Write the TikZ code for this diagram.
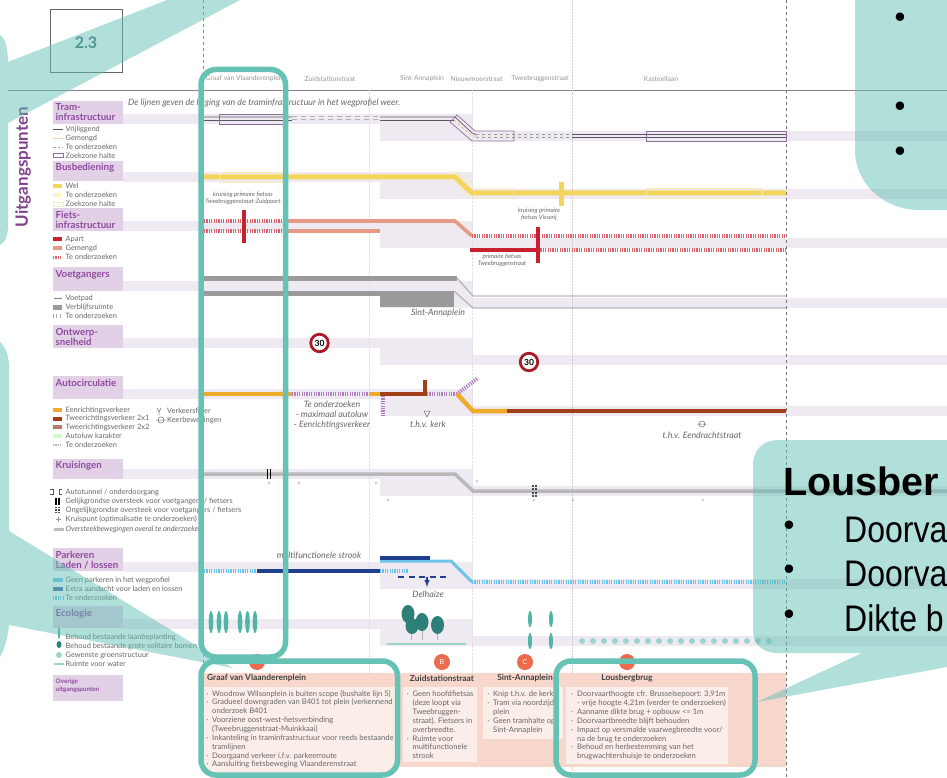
\documentclass[tikz,border=0pt]{standalone}
\usepackage{fontspec}
\setmainfont{Lato}
\newfontfamily\callfont{Liberation Sans}
\newfontfamily\callnarrow[FakeStretch=0.865]{Liberation Sans}
\definecolor{bandlila}{HTML}{EFEAF2}
\definecolor{headlila}{HTML}{E2D0E7}
\definecolor{headtext}{HTML}{8E4A9E}
\definecolor{ruleline}{HTML}{8D7C93}
\definecolor{zonelila}{HTML}{8E6E98}
\definecolor{tramdark}{HTML}{5A5560}
\definecolor{busgeel}{HTML}{F3D55B}
\definecolor{busgeelpale}{HTML}{F8EBB4}
\definecolor{fietsrood}{HTML}{C8202F}
\definecolor{fietszalm}{HTML}{E59A85}
\definecolor{voetgrijs}{HTML}{9A9A9A}
\definecolor{kruisgrijs}{HTML}{B8B8B8}
\definecolor{autooranje}{HTML}{EEAB2A}
\definecolor{autorood}{HTML}{A23E1A}
\definecolor{parkblauw}{HTML}{1F3F8F}
\definecolor{parklicht}{HTML}{6CC3E8}
\definecolor{boomslank}{HTML}{4FB5A5}
\definecolor{boomdonker}{HTML}{2E7F78}
\definecolor{groenlicht}{HTML}{9DD3CC}
\definecolor{zalmvlak}{HTML}{F7D6CB}
\definecolor{zalmlicht}{HTML}{FBEEEA}
\definecolor{letterbol}{HTML}{EC6A4E}
\definecolor{kaderteal}{HTML}{66C2B5}
\definecolor{wolkteal}{HTML}{63BFB3}
\definecolor{tekstgrijs}{HTML}{666666}
\definecolor{nummerteal}{HTML}{3F6A70}
\newcommand{\bandrow}[1]{%
	\fill[bandlila] (123,#1) rectangle (473,#1+10);
	\fill[bandlila] (380,#1) rectangle (473,#1+27);
	\fill[bandlila] (473,#1+17) rectangle (947,#1+27);}
\newcommand{\bul}{\llap{·\ \ }}
\begin{document}
\begin{tikzpicture}[x=1pt,y=-1pt]
	\tikzset{headbox/.style={fill=headlila,inner sep=0pt}}
	\tikzset{headlabel/.style={anchor=north west,inner sep=0pt,align=left,text=headtext,font=\fontsize{9.7}{10}\selectfont\bfseries}}
	\tikzset{legend/.style={anchor=west,inner sep=0pt,text=tekstgrijs,font=\fontsize{7.4}{8}\selectfont}}
	\tikzset{street/.style={inner sep=0pt,text=tekstgrijs!70,font=\fontsize{6.8}{7}\selectfont}}
	\tikzset{remark/.style={inner sep=0pt,align=center,text=tekstgrijs,font=\fontsize{8.8}{10}\selectfont\itshape}}
	\tikzset{tiny/.style={inner sep=0pt,align=center,text=tekstgrijs,font=\fontsize{6.1}{7}\selectfont\itshape}}
	\tikzset{hatchline/.style={line width=4pt,dash pattern=on 1.2pt off 1.2pt}}
	\tikzset{boxtitle/.style={inner sep=0pt,text=black!75,font=\fontsize{8.4}{9}\selectfont\bfseries}}
	\tikzset{boxtext/.style={anchor=north west,inner sep=0pt,align=left,text=tekstgrijs,font=\fontsize{7.6}{8.85}\selectfont}}
	\tikzset{letterdot/.style={circle,fill=letterbol,minimum size=16pt,inner sep=0pt,text=white,font=\fontsize{7}{8}\selectfont}}
	\tikzset{speed/.style={circle,draw=fietsrood!85!black,line width=2.8pt,fill=white,minimum size=17.5pt,inner sep=0pt,font=\fontsize{8.5}{9}\selectfont\bfseries}}
	\tikzset{crossing/.style={text=black!45,inner sep=0pt,font=\fontsize{6}{6}\selectfont}}
	\tikzset{frame/.style={draw=kaderteal,line width=5.5pt,rounded corners=15pt}}
	\tikzset{wolk/.style={fill=wolkteal,fill opacity=0.5}}
	\tikzset{dot/.style={inner sep=0pt,font=\callfont\fontsize{31}{32}\selectfont}}
	\tikzset{calltext/.style={anchor=base west,inner sep=0pt,font=\callnarrow\fontsize{37}{40}\selectfont}}
	\useasboundingbox (0,0) rectangle (947,778);

	\bandrow{114}
	\bandrow{172}
	\bandrow{221}
	\bandrow{281}
	\bandrow{338}
	\bandrow{389}
	\bandrow{469}
	\bandrow{562}
	\bandrow{619}

	\draw[ruleline,line width=0.8pt] (8,90) -- (947,90);
	\draw[black!60,line width=0.6pt] (50,9) rectangle (122,72);
	\node[inner sep=0pt,text=nummerteal,font=\fontsize{16}{17}\selectfont\bfseries] (chapter) at (86,43) {2.3};
	\node[rotate=90,inner sep=0pt,text=headtext!90!black,font=\fontsize{17}{18}\selectfont\bfseries] (uitgang) at (23,167) {Uitgangspunten};

	\draw[black!45,line width=0.8pt,dashed] (203.5,0) -- (203.5,770);
	\draw[black!55,line width=0.8pt,dashed] (786,0) -- (786,778);
	\draw[black!12,line width=0.4pt,densely dotted] (369,90) -- (369,770);
	\draw[black!12,line width=0.4pt,densely dotted] (472,90) -- (472,673);
	\draw[black!20,line width=0.5pt,densely dotted] (572,0) -- (572,770);

	\node[street] (s1) at (245,79) {Graaf van Vlaanderenplein};
	\node[street] (s2) at (330,79) {Zuidstationstraat};
	\node[street] (s3) at (422,79) {Sint-Annaplein};
	\node[street] (s4) at (476.5,79) {Nieuwmoerstraat};
	\node[street] (s5) at (540,79) {Tweebruggenstraat};
	\node[street] (s6) at (661,79) {Kasteellaan};
	\node[anchor=west,inner sep=0pt,text=tekstgrijs,font=\fontsize{8.8}{9}\selectfont\itshape] (note) at (128,103) {De lijnen geven de ligging van de traminfrastructuur in het wegprofiel weer.};

	\fill[headbox] (53,101) rectangle (123,124);
	\node[headlabel] (h1) at (55.5,103.5) {Tram-\\infrastructuur};
	\fill[headbox] (53,161) rectangle (123,181);
	\node[headlabel] (h2) at (55.5,163.5) {Busbediening};
	\fill[headbox] (53,208) rectangle (123,231);
	\node[headlabel] (h3) at (55.5,211) {Fiets-\\infrastructuur};
	\fill[headbox] (53,267) rectangle (123,291);
	\node[headlabel] (h4) at (55.5,270.5) {Voetgangers};
	\fill[headbox] (53,325) rectangle (123,348);
	\node[headlabel] (h5) at (55.5,328) {Ontwerp-\\snelheid};
	\fill[headbox] (53,376) rectangle (123,399);
	\node[headlabel] (h6) at (55.5,379.5) {Autocirculatie};
	\fill[headbox] (53,459) rectangle (123,479);
	\node[headlabel] (h7) at (55.5,461.5) {Kruisingen};
	\fill[headbox] (53,548) rectangle (123,571);
	\node[headlabel] (h8) at (55.5,551) {Parkeren\\Laden / lossen};
	\fill[headbox] (53,606) rectangle (123,628);
	\node[headlabel] (h9) at (55.5,609) {Ecologie};
	\fill[headbox] (53,675) rectangle (123,701);
	\node[headlabel,font=\fontsize{6.3}{7.6}\selectfont\bfseries] (h10) at (55.5,679) {Overige\\uitgangspunten};

	\node[legend] (l1a) at (65.5,129) {Vrijliggend};
	\node[legend] (l1b) at (65.5,138) {Gemengd};
	\node[legend] (l1c) at (65.5,147) {Te onderzoeken};
	\node[legend] (l1d) at (65.5,155.5) {Zoekzone halte};
	\draw[tramdark,line width=0.6pt,double=white,double distance=1pt] (53,129) -- (63,129);
	\draw[busgeelpale!70!fietszalm,line width=0.6pt,double=white,double distance=1pt] (53,138) -- (63,138);
	\draw[black!35,line width=0.6pt,double=white,double distance=1pt,dash pattern=on 2.5pt off 2pt] (53,147) -- (63,147);
	\draw[zonelila,line width=0.6pt] (53,153) rectangle (63,157.5);

	\node[legend] (l2a) at (65.5,186) {Wel};
	\node[legend] (l2b) at (65.5,195) {Te onderzoeken};
	\node[legend] (l2c) at (65.5,204) {Zoekzone halte};
	\fill[busgeel] (53,184) rectangle (62,188);
	\draw[busgeelpale,hatchline] (53,195) -- (62,195);
	\draw[busgeelpale,line width=0.8pt] (53,202) rectangle (63,206);

	\node[legend] (l3a) at (65.5,239) {Apart};
	\node[legend] (l3b) at (65.5,248) {Gemengd};
	\node[legend] (l3c) at (65.5,257) {Te onderzoeken};
	\fill[fietsrood] (53,237) rectangle (62,241);
	\fill[fietszalm] (53,246) rectangle (62,250);
	\draw[fietsrood!70,hatchline,line width=3pt] (53,257) -- (62,257);

	\node[legend] (l4a) at (65.5,298) {Voetpad};
	\node[legend] (l4b) at (65.5,307) {Verblijfsruimte};
	\node[legend] (l4c) at (65.5,316) {Te onderzoeken};
	\draw[black!50,line width=0.7pt] (54,298) -- (62,298);
	\fill[voetgrijs] (53,304.5) rectangle (62,309.5);
	\draw[black!35,line width=3.6pt,dash pattern=on 0.8pt off 2.6pt] (53,316) -- (62,316);

	\node[legend] (l6a) at (65.5,410) {Eenrichtingsverkeer};
	\node[legend] (l6b) at (65.5,418.5) {Tweerichtingsverkeer 2x1};
	\node[legend] (l6c) at (65.5,427) {Tweerichtingsverkeer 2x2};
	\node[legend] (l6d) at (65.5,436) {Autoluw karakter};
	\node[legend] (l6e) at (65.5,445) {Te onderzoeken};
	\node[legend] (l6f) at (167,411) {Verkeersfilter};
	\node[legend] (l6g) at (167,420) {Keerbewegingen};
	\fill[autooranje] (53,408) rectangle (62,412);
	\fill[autorood] (53,416.5) rectangle (62,420.5);
	\fill[fietszalm!80!black] (53,425) rectangle (62,429);
	\fill[green!20] (53,434) rectangle (62,438);
	\draw[black!30,hatchline,line width=2pt] (53,445) -- (62,445);
	\draw[black!55,line width=0.5pt] (157,408) -- (159,412) -- (161,408) (159,412) -- (159,415);
	\draw[black!55,line width=0.5pt] (161,420) circle (3pt) (156,420) -- (166,420);

	\node[legend] (l7a) at (65.5,492) {Autotunnel / onderdoorgang};
	\node[legend] (l7b) at (65.5,501) {Gelijkgrondse oversteek voor voetgangers / fietsers};
	\node[legend] (l7c) at (65.5,510) {Ongelijkgrondse oversteek voor voetgangers / fietsers};
	\node[legend] (l7d) at (65.5,519) {Kruispunt (optimalisatie te onderzoeken)};
	\node[legend,font=\fontsize{7.4}{8}\selectfont\itshape] (l7e) at (65.5,529) {Oversteekbewegingen overal te onderzoeken};
	\draw[black!65,line width=0.5pt] (50,489.5) -- (53,489.5) -- (53,494.5) -- (50,494.5) (62,489.5) -- (59,489.5) -- (59,494.5) -- (62,494.5);
	\draw[black,line width=1.3pt] (56,497.5) -- (56,504.5) (59,497.5) -- (59,504.5);
	\draw[black!70,line width=1.3pt,dash pattern=on 1.3pt off 1.5pt] (56,506.5) -- (56,513.5) (59,506.5) -- (59,513.5);
	\draw[black!40,line width=0.4pt] (58,516.5) -- (58,521.5) (55.5,519) -- (60.5,519);
	\fill[black!25] (54,527.5) rectangle (64,530.5);

	\node[legend] (l8a) at (65.5,580) {Geen parkeren in het wegprofiel};
	\node[legend] (l8b) at (65.5,589) {Extra aandacht voor laden en lossen};
	\node[legend] (l8c) at (65.5,598) {Te onderzoeken};
	\fill[parklicht] (53,578) rectangle (63,582);
	\fill[parkblauw!80] (53,587) rectangle (63,591);
	\draw[parklicht,hatchline] (53,598) -- (63,598);

	\node[legend] (l9a) at (65.5,637) {Behoud bestaande laanbeplanting};
	\node[legend] (l9b) at (65.5,646) {Behoud bestaande grote solitaire bomen};
	\node[legend] (l9c) at (65.5,655) {Gewenste groenstructuur};
	\node[legend] (l9d) at (65.5,664) {Ruimte voor water};
	\fill[boomslank] (59,633) ellipse (1.2pt and 6pt);
	\fill[boomdonker] (59,644.5) ellipse (2.5pt and 3.5pt);
	\fill[groenlicht] (59,655) circle (3pt);
	\fill[groenlicht] (54,663) rectangle (64,665);

	\draw[black!30,line width=1pt,dash pattern=on 5pt off 4pt] (292,117) -- (380,117) (292,120) -- (380,120);
	\draw[tramdark,line width=0.7pt] (204,117) -- (292,117) (380,117) -- (455,117) -- (472,133) -- (476,134.5);
	\draw[tramdark,line width=0.7pt] (204,120) -- (292,120);
	\draw[tramdark,line width=0.7pt] (380,120) -- (454,120);
	\draw[fietszalm!70!busgeel,line width=0.6pt,densely dashed] (454,120) -- (472,136) -- (476,136);
	\draw[black!40,line width=0.5pt,dashed] (476,134.5) -- (572,134.5) (476,137.5) -- (572,137.5);
	\draw[tramdark,line width=0.7pt] (572,134.5) -- (786,134.5) (572,137.5) -- (786,137.5);
	\draw[zonelila,line width=0.7pt] (219,114) rectangle (283,124);
	\draw[zonelila,line width=0.7pt] (450,122) -- (457,115) -- (475,131) -- (514,131) -- (514,141) -- (472,141) -- cycle;
	\draw[zonelila,line width=0.7pt] (646,131) rectangle (786,141);

	\draw[busgeel,line width=5pt] (204,177) -- (455,177) -- (472,193) -- (786,193);
	\draw[busgeel,line width=5pt] (561,182) -- (561,206);
	\draw[busgeelpale,line width=0.7pt] (219,172) rectangle (283,182);
	\draw[busgeelpale,line width=0.7pt] (450,172) -- (457,172) -- (475,188) -- (514,188) -- (514,198) -- (470,198) -- (450,180);
	\draw[busgeelpale,line width=0.7pt] (646,188) rectangle (762,198);
	\node[tiny] (t1) at (243,198) {kruising primaire fietsas\\Tweebruggenstraat-Zuidpoort};
	\node[tiny] (t2) at (539,214) {kruising primaire\\fietsas Visserij};
	\node[tiny] (t3) at (502,260.5) {primaire fietsas\\Tweebruggenstraat};

	\draw[fietszalm,line width=3.6pt] (285,221) -- (455,221) -- (472,236);
	\draw[fietszalm,line width=3.6pt] (285,231) -- (380,231);
	\draw[fietsrood!70,hatchline] (204,221) -- (285,221);
	\draw[fietsrood!70,hatchline] (204,231) -- (285,231);
	\draw[fietsrood!70,hatchline] (472,236) -- (786,236);
	\draw[fietsrood!70,hatchline] (538,250) -- (786,250);
	\draw[fietsrood,line width=4pt] (470,250) -- (538,250);
	\draw[fietsrood,line width=4pt] (244,210) -- (244,243);
	\draw[fietsrood,line width=4pt] (538,227) -- (538,263);

	\draw[voetgrijs,line width=5pt] (204,278) -- (457,278);
	\draw[voetgrijs,line width=5pt] (204,293) -- (380,293);
	\fill[voetgrijs] (380,291) rectangle (454,307);
	\draw[kruisgrijs,line width=1.4pt] (457,278) -- (473,296) -- (786,296);
	\draw[kruisgrijs,line width=1.4pt] (454,291) -- (473,308) -- (786,308);
	\node[remark] (r1) at (438,313) {Sint-Annaplein};

	\node[speed] (v1) at (319.5,343) {30};
	\node[speed] (v2) at (529,362) {30};

	\draw[autooranje,line width=4.5pt] (204,394) -- (292,394);
	\draw[headtext!70,hatchline] (292,394) -- (369,394);
	\draw[autooranje,line width=4.5pt] (369,394) -- (380,394);
	\draw[autorood,line width=4.5pt] (380,394) -- (427,394);
	\draw[autorood,line width=4pt] (425,380) -- (425,396);
	\draw[headtext!70,hatchline] (427,394) -- (457,394);
	\draw[headtext!70,hatchline] (457,394) -- (478,378);
	\draw[headtext!70,hatchline] (383,396) -- (383,416);
	\draw[autooranje,line width=4.5pt] (457,394) -- (473,411) -- (507,411);
	\draw[autorood,line width=4.5pt] (507,411) -- (786,411);
	\node[remark] (r2) at (332,415) {Te onderzoeken\\- maximaal autoluw\\- Eenrichtingsverkeer};
	\draw[black!55,line width=0.5pt] (424,411) -- (430,411) -- (427,417) -- cycle;
	\node[remark] (r3) at (428,424) {t.h.v. kerk};
	\draw[black!55,line width=0.5pt] (702,424) circle (3pt) (697,424) -- (707,424);
	\node[remark] (r4) at (702,435) {t.h.v. Eendrachtstraat};

	\draw[kruisgrijs,line width=3.5pt] (204,474) -- (455,474) -- (473,491) -- (786,491) -- (947,491);
	\draw[black,line width=1.4pt] (267.5,469) -- (267.5,479) (270.5,469) -- (270.5,479);
	\draw[black!70,line width=2pt,dash pattern=on 2pt off 1.4pt] (532.5,485) -- (532.5,498) (535.5,485) -- (535.5,498);
	\node[crossing] (p1) at (269,484) {+};
	\node[crossing] (p2) at (299,484) {+};
	\node[crossing] (p3) at (376,484) {+};
	\node[crossing] (p4) at (388,501) {+};
	\node[crossing] (p5) at (477,482) {+};
	\node[crossing] (p6) at (534,501) {+};
	\node[crossing] (p7) at (573,501) {+};
	\node[crossing] (p8) at (703,501) {+};

	\draw[parklicht,hatchline] (204,571) -- (257,571);
	\draw[parkblauw,line width=3.5pt] (257,571) -- (380,571);
	\draw[parklicht,hatchline] (380,571) -- (408,571);
	\draw[parklicht,line width=3pt] (380,561) -- (451,561) -- (472,582);
	\draw[parkblauw,line width=4pt] (380,557.5) -- (430,557.5);
	\draw[parklicht,hatchline] (472,582) -- (786,582);
	\draw[parkblauw,line width=1.4pt,dash pattern=on 6pt off 4.5pt] (398,577) -- (448,577);
	\coordinate (delhaizetop) at (427,577);
	\coordinate (delhaizeend) at (427,587);
	\node[remark] (r5) at (428,594) {Delhaize};
	\draw[parkblauw,line width=1.4pt,-latex] (delhaizetop) -- (delhaizeend);
	\node[remark] (r6) at (319,556) {multifunctionele strook};

	\fill[boomslank] (211,622) ellipse (2.3pt and 11pt);
	\fill[boomslank] (219,622) ellipse (2.3pt and 11pt);
	\fill[boomslank] (226,622) ellipse (2.3pt and 11pt);
	\fill[boomslank] (240,622) ellipse (2.3pt and 11pt);
	\fill[boomslank] (247.5,622) ellipse (2.3pt and 11pt);
	\fill[boomslank] (255,622) ellipse (2.3pt and 11pt);
	\fill[boomslank] (530,619) ellipse (2pt and 8pt);
	\fill[boomslank] (530,641) ellipse (2pt and 8pt);
	\fill[boomslank] (551,619) ellipse (2pt and 8pt);
	\fill[boomslank] (551,641) ellipse (2pt and 8pt);
	\draw[black!30,line width=0.5pt] (411,620) -- (411,640) (422,625) -- (422,640) (437.5,628) -- (437.5,640);
	\fill[boomdonker] (408,614) ellipse (6.5pt and 9pt);
	\fill[boomdonker] (412,626) ellipse (6.5pt and 8pt);
	\fill[boomdonker] (422,622) ellipse (6.5pt and 9pt);
	\fill[boomdonker] (437.5,625) ellipse (6.5pt and 9pt);
	\draw[groenlicht,line width=1.6pt] (387,644) -- (466,644);
	\draw[groenlicht,line width=6pt,line cap=round,dash pattern=on 0pt off 11pt] (582,641) -- (780,641);

	\fill[zalmvlak] (204,673) rectangle (786,767);
	\fill[zalmlicht] (204,687) rectangle (396,773);
	\fill[zalmlicht] (403,687) rectangle (477,762);
	\fill[zalmlicht] (483,687) rectangle (563,739);
	\fill[zalmlicht] (566,687) rectangle (728,764);
	\node[letterdot] (da) at (257,662) {A};
	\node[letterdot] (db) at (442,662) {B};
	\node[letterdot] (dc) at (525,662) {C};
	\node[letterdot] (dd) at (627,662) {D};
	\node[boxtitle,anchor=west] (b1) at (207,678) {Graaf van Vlaanderenplein};
	\node[boxtitle] (b2) at (442,678) {Zuidstationstraat};
	\node[boxtitle] (b3) at (525,678) {Sint-Annaplein};
	\node[boxtitle] (b4) at (627,678) {Lousbergbrug};
	\node[boxtext] (tb1) at (212,690) {\bul Woodrow Wilsonplein is buiten scope (bushalte lijn 5)\\\bul Gradueel downgraden van B401 tot plein (verkennend\\onderzoek B401\\\bul Voorziene oost-west-fietsverbinding\\(Tweebruggenstraat-Muinkkaai)\\\bul Inkanteling in traminfrastructuur voor reeds bestaande\\tramlijnen\\\bul Doorgaand verkeer i.f.v. parkeerroute\\\bul Aansluiting fietsbeweging Vlaanderenstraat};
	\node[boxtext] (tb2) at (412.5,691) {\bul Geen hoofdfietsas\\(deze loopt via\\Tweebruggen-\\straat). Fietsers in\\overbreedte.\\\bul Ruimte voor\\multifunctionele\\strook};
	\node[boxtext] (tb3) at (493,691) {\bul Knip t.h.v. de kerk\\\bul Tram via noordzijde\\plein\\\bul Geen tramhalte op\\Sint-Annaplein};
	\node[boxtext] (tb4) at (577,691) {\bul Doorvaarthoogte cfr. Brusselsepoort: 3,91m\\- vrije hoogte 4,21m (verder te onderzoeken)\\\bul Aanname dikte brug + opbouw <= 1m\\\bul Doorvaartbreedte blijft behouden\\\bul Impact op versmalde vaarwegbreedte voor/\\na de brug te onderzoeken\\\bul Behoud en herbestemming van het\\brugwachtershuisje te onderzoeken};

	\fill[wolk] (0,35) .. controls (5,38) and (8,48) .. (8,62) -- (167,0) -- (240,0) -- (8,123) -- (8,225) .. controls (8,238) and (4,243) .. (0,245) -- cycle;
	\fill[wolk] (0,342) .. controls (6,347) and (9,357) .. (9,367) -- (9,531) -- (233,668) -- (9,625) .. controls (8,637) and (4,650) .. (0,657) -- cycle;
	\fill[wolk] (855,0) -- (855,150) .. controls (855,185) and (885,210) .. (920,210) -- (947,210) -- (947,0) -- cycle;
	\fill[wolk] (947,440) -- (778,440) .. controls (763,440) and (753,450) .. (753,465) -- (753,630) .. controls (753,645) and (763,653) .. (778,653) -- (862,653) -- (757,702) -- (947,667) -- cycle;

	\draw[frame] (201,69.5) rectangle (285.5,657);
	\draw[frame] (201,661) rectangle (397.5,775);
	\draw[frame] (556,661) rectangle (755,775);

	\node[dot] (k1) at (900,20.5) {•};
	\node[dot] (k2) at (900,109) {•};
	\node[dot] (k3) at (900,154) {•};
	\node[dot] (k4) at (789,528) {•};
	\node[dot] (k5) at (789,572) {•};
	\node[dot] (k6) at (789,617) {•};
	\node[calltext,font=\callfont\fontsize{39.5}{40}\selectfont\bfseries] (c0) at (783,495) {Lousber};
	\node[calltext] (c1) at (844,542) {Doorva};
	\node[calltext] (c2) at (844,586) {Doorva};
	\node[calltext] (c3) at (844,631) {Dikte b};
\end{tikzpicture}
\end{document}
